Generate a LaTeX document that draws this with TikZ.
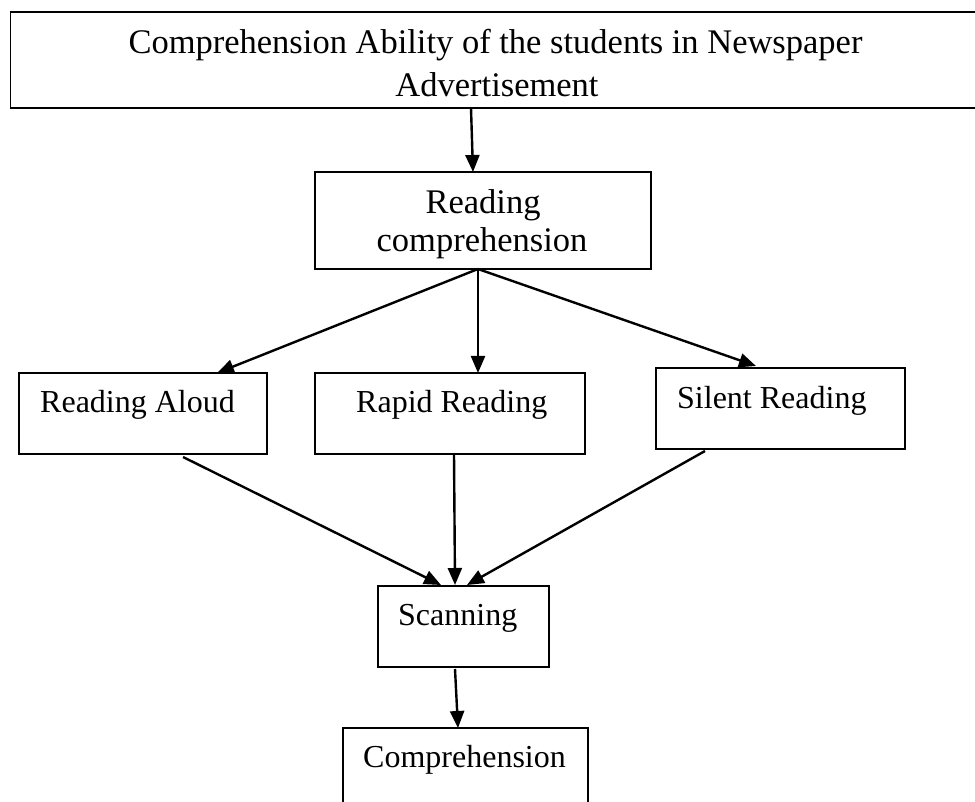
\documentclass[tikz,border=0pt]{standalone}
\usepackage{fontspec}
\setmainfont{Liberation Serif}
\usetikzlibrary{arrows.meta}
\begin{document}
\begin{tikzpicture}[x=1pt,y=-1pt,
  box/.style={draw=black,line width=1.7pt,inner sep=0pt,fill=none},
  lbl/.style={inner sep=0pt,font=\fontsize{32}{38}\selectfont},
  biglbl/.style={inner sep=0pt,font=\fontsize{34.5}{40}\selectfont},
  arr/.style={line width=2.4pt,-{Triangle[length=17pt,width=14pt]}}]
\clip (0,0) rectangle (975,802);
\fill[white] (0,0) rectangle (975,802);
% boxes
\node[box,minimum width=979.5pt,minimum height=96.3pt] (top) at (500.25,59.85) {};
\node[box,minimum width=336pt,minimum height=97pt] (rc) at (483,220.5) {};
\node[box,minimum width=248pt,minimum height=81pt] (aloud) at (143,413.5) {};
\node[box,minimum width=270pt,minimum height=81pt] (rapid) at (450,413.5) {};
\node[box,minimum width=249pt,minimum height=81pt] (silent) at (780.5,408.5) {};
\node[box,minimum width=171pt,minimum height=81pt] (scan) at (463.5,626.5) {};
\node[box,minimum width=245pt,minimum height=104pt] (comp) at (465.5,780) {};
% texts
\node[biglbl,anchor=base] (t1) at (495.5,54) {Comprehension Ability of the students in Newspaper};
\node[biglbl,anchor=base] (t2) at (497,97) {Advertisement};
\node[biglbl,anchor=base] (r1) at (483,214) {Reading};
\node[biglbl,anchor=base] (r2) at (482,252) {comprehension};
\node[lbl,anchor=base west] (ta) at (40,413) {Reading Aloud};
\node[lbl,anchor=base west] (tr) at (356,413) {Rapid Reading};
\node[lbl,anchor=base west] (ts) at (677,408) {Silent Reading};
\node[lbl,anchor=base west] (tsc) at (398,625) {Scanning};
\node[lbl,anchor=base west] (tc) at (363,767) {Comprehension};
% connector coordinates
\coordinate (topOut) at (471,108);
\coordinate (rcIn) at (473,172);
\coordinate (rcOut) at (478,269);
\coordinate (aloudIn) at (217,373);
\coordinate (rapidIn) at (478,373);
\coordinate (silentIn) at (756,366);
\coordinate (aloudOut) at (183,457);
\coordinate (rapidOut) at (454,454);
\coordinate (silentOut) at (705,451);
\coordinate (scanInA) at (441,585);
\coordinate (scanInB) at (455,585);
\coordinate (scanInC) at (467,585);
\coordinate (scanOut) at (455,669);
\coordinate (compIn) at (458,728);
% connectors
\draw[arr] (topOut) -- (rcIn);
\draw[arr] (rcOut) -- (aloudIn);
\draw[arr] (rcOut) -- (rapidIn);
\draw[arr] (rcOut) -- (silentIn);
\draw[arr] (aloudOut) -- (scanInA);
\draw[arr] (rapidOut) -- (scanInB);
\draw[arr] (silentOut) -- (scanInC);
\draw[arr] (scanOut) -- (compIn);
\end{tikzpicture}
\end{document}
